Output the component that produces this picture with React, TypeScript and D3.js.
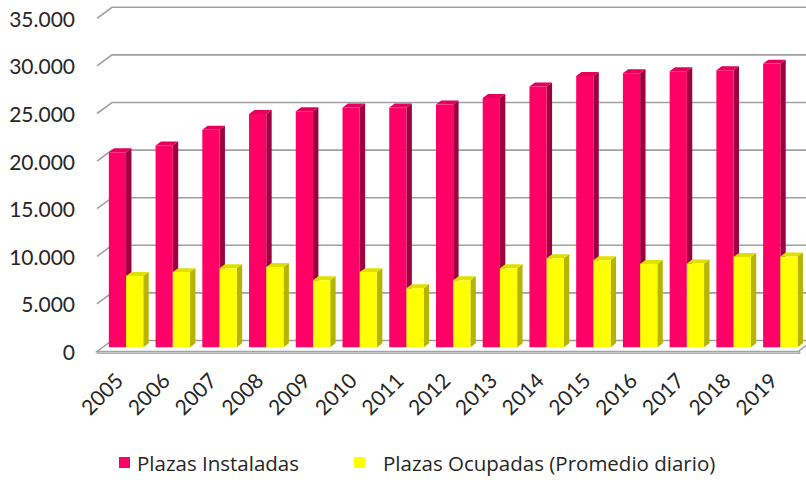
import React from "react";
import * as d3 from "d3";

const years = ["2005","2006","2007","2008","2009","2010","2011","2012","2013","2014","2015","2016","2017","2018","2019"];
const instaladas = [20500, 21200, 22850, 24500, 24800, 25200, 25200, 25500, 26200, 27400, 28500, 28800, 29000, 29100, 29800];
const ocupadas = [7500, 7900, 8300, 8450, 7050, 7900, 6200, 7050, 8300, 9350, 9150, 8750, 8800, 9500, 9550];
const yTicks = [0, 5000, 10000, 15000, 20000, 25000, 30000, 35000];
const seriesNames = ["Plazas Instaladas", "Plazas Ocupadas (Promedio diario)"];

const W = 806, H = 480;
const DX = 15, DY = -11;
const X0 = 97, XW = 701;
const F0 = 0.38, FD = 0.36;
const FONT = "Lato, 'Open Sans', sans-serif";
const LFONT = "'Open Sans', Lato, sans-serif";

const fmt = d3.formatLocale({ decimal: ",", thousands: ".", grouping: [3], currency: ["", ""] }).format(",");

const pal = [
  { front: "#FF0066", side: "#9E003F", top: "#E4005B" },
  { front: "#FFFF00", side: "#B5B500", top: "#E0E000" },
];

export default function App() {
  const yFront = d3.scaleLinear().domain([0, 35000]).range([351.5, 18.3]);
  const xBand = d3.scaleBand<string>().domain(years).range([X0, X0 + XW]).paddingInner(0.263).paddingOuter(0.1315);
  const sub = d3.scaleBand<number>().domain([0, 1]).range([0, xBand.bandwidth()]);
  const proj = (x: number, v: number, f: number): [number, number] => [x + f * DX, yFront(v) + f * DY];
  const poly = (pts: [number, number][]) => pts.map((p) => p.join(",")).join(" ");
  const step = xBand.step();

  const bars: JSX.Element[] = [];
  years.forEach((yr, i) => {
    [instaladas[i], ocupadas[i]].forEach((v, s) => {
      const xl = (xBand(yr) as number) + (sub(s) as number);
      const xr = xl + sub.bandwidth();
      const f1 = F0 + FD;
      const c = pal[s];
      bars.push(
        <g key={yr + s}>
          <polygon points={poly([proj(xr, 0, F0), proj(xr, 0, f1), proj(xr, v, f1), proj(xr, v, F0)])} fill={c.side} />
          <polygon points={poly([proj(xl, v, F0), proj(xr, v, F0), proj(xr, v, f1), proj(xl, v, f1)])} fill={c.top} />
          <polygon points={poly([proj(xl, 0, F0), proj(xr, 0, F0), proj(xr, v, F0), proj(xl, v, F0)])} fill={c.front} />
        </g>
      );
    });
  });

  const xEnd = X0 + XW;

  return (
    <svg width={W} height={H} style={{ position: "absolute", left: 0, top: 0, display: "block", background: "#fff" }}>
      {/* floor */}
      <polygon points={poly([proj(X0, 0, 0), proj(xEnd, 0, 0), proj(xEnd, 0, 1), proj(X0, 0, 1)])} fill="#fff" stroke="#a0a0a0" strokeWidth={1.5} />
      <polygon points={poly([proj(X0, 0, 0), proj(xEnd, 0, 0), [xEnd + 2, yFront(0) + 0], [xEnd + 2, yFront(0) + 2], [X0, yFront(0) + 2]])} fill="#c8c8c8" stroke="#a0a0a0" strokeWidth={0.8} />
      {/* gridlines */}
      {yTicks.map((t) => {
        if (t === 0) return null;
        const a = proj(X0, t, 0), b = proj(X0, t, 1), c = proj(xEnd + 20, t, 1);
        return <polyline key={t} points={poly([a, b, c])} fill="none" stroke="#a0a0a0" strokeWidth={1.6} />;
      })}
      {bars}
      {/* y labels */}
      {yTicks.map((t) => (
        <text key={t} x={75} y={yFront(t)} textAnchor="end" dominantBaseline="central" fontFamily={FONT} fontSize={21} fill="#262626">
          {fmt(t)}
        </text>
      ))}
      {/* x labels */}
      {years.map((yr) => {
        const cx = (xBand(yr) as number) - step * 0.1315 + step / 2 - 5.7 + 1;
        return (
          <text key={yr} transform={`translate(${cx + 3},376) rotate(-45)`} textAnchor="end" dominantBaseline="central" fontFamily={FONT} fontSize={21} fill="#262626">
            {yr}
          </text>
        );
      })}
      {/* legend */}
      <rect x={119} y={457} width={11} height={11} fill={pal[0].front} />
      <text x={137} y={463} dominantBaseline="central" fontFamily={LFONT} fontSize={20.5} fill="#262626">{seriesNames[0]}</text>
      <rect x={354} y={457} width={11} height={11} fill={pal[1].front} />
      <text x={383} y={463} dominantBaseline="central" fontFamily={LFONT} fontSize={20.5} fill="#262626">{seriesNames[1]}</text>
    </svg>
  );
}
